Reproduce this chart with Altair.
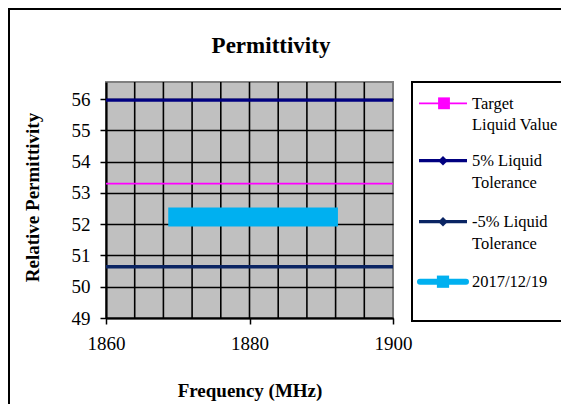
import altair as alt
import pandas as pd

# ---- data ----
freq_span = [1860, 1900]
target_val = [53.3, 53.3]
tol_plus = [55.97, 55.97]
tol_minus = [50.64, 50.64]
meas_freq = [1870, 1880, 1891]
meas_val = [52.23, 52.23, 52.23]
grid_freq = [1864, 1868, 1872, 1876, 1880, 1884, 1888, 1892, 1896]
x_ticks = [1860, 1880, 1900]
y_ticks = [49, 50, 51, 52, 53, 54, 55, 56]
series_names = ["Target\nLiquid Value", "5% Liquid\nTolerance", "-5% Liquid\nTolerance", "2017/12/19"]
series_colors = ["#FF00FF", "#000080", "#0A2463", "#00B0F0"]

FONT = "'Liberation Serif', 'Times New Roman', Times, serif"
W, H = 287, 236

xs = alt.Scale(domain=[1860, 1900], nice=False, zero=False)
ys = alt.Scale(domain=[49, 56.55], nice=False, zero=False)

xaxis = alt.Axis(values=x_ticks, grid=False, title="Frequency (MHz)", format="d",
                 labelFont=FONT, labelFontSize=19, labelColor="black", labelPadding=10,
                 labelFlush=False,
                 tickSize=6, tickWidth=1.5, tickColor="black",
                 domainColor="black", domainWidth=2.2,
                 titleFont=FONT, titleFontSize=19, titleFontWeight="bold", titleColor="black",
                 titleY=78, titleBaseline="alphabetic")
yaxis = alt.Axis(values=y_ticks, grid=True, gridColor="black", gridWidth=1.6,
                 title="Relative Permittivity", format="d",
                 labelFont=FONT, labelFontSize=19, labelColor="black", labelPadding=10,
                 tickSize=6, tickWidth=1.5, tickColor="black",
                 domainColor="black", domainWidth=2.2,
                 titleFont=FONT, titleFontSize=19, titleFontWeight="bold", titleColor="black",
                 titleAngle=270, titleX=-68, titleY=115, titleAlign="center",
                 titleBaseline="alphabetic")

one = pd.DataFrame({"k": [0]})

frame = alt.Chart(one).mark_rect(fillOpacity=0, stroke="black", strokeWidth=2).encode(
    x=alt.value(-97), x2=alt.value(900), y=alt.value(-73), y2=alt.value(700))

grid = alt.Chart(pd.DataFrame({"f": grid_freq})).mark_rule(color="black", strokeWidth=1.6).encode(
    x=alt.X("f:Q", scale=xs, axis=xaxis))

def series_line(vals_x, vals_y, color, width, cap="butt"):
    df = pd.DataFrame({"f": vals_x, "v": vals_y})
    return alt.Chart(df).mark_line(color=color, strokeWidth=width, strokeCap=cap).encode(
        x=alt.X("f:Q", scale=xs, axis=xaxis),
        y=alt.Y("v:Q", scale=ys, axis=yaxis))

l_target = series_line(freq_span, target_val, series_colors[0], 1.8)
l_plus = series_line(freq_span, tol_plus, series_colors[1], 3.3)
l_minus = series_line(freq_span, tol_minus, series_colors[2], 3.3)
l_meas = series_line(meas_freq, meas_val, series_colors[3], 19, "square")

title = alt.Chart(one).mark_text(font=FONT, fontSize=23, fontWeight="bold", color="black",
                                 align="center", baseline="alphabetic").encode(
    x=alt.value(165), y=alt.value(-29), text=alt.value("Permittivity"))

legend_box = alt.Chart(one).mark_rect(fill="white", stroke="black", strokeWidth=2).encode(
    x=alt.value(306), x2=alt.value(900), y=alt.value(0), y2=alt.value(239))

entry_y = [21.3, 78.7, 139.7, 199.7]
line_w = [1.8, 3.3, 3.3, 6]
caps = ["butt", "butt", "butt", "round"]
shapes = ["square", "diamond", "diamond", "square"]
sizes = [140, 90, 90, 150]
mark_x = [338, 337, 337, 337]

legend_layers = []
for i, name in enumerate(series_names):
    c = series_colors[i]
    ey = entry_y[i]
    legend_layers.append(alt.Chart(one).mark_rule(color=c, strokeWidth=line_w[i], strokeCap=caps[i]).encode(
        x=alt.value(313 if i < 3 else 314), x2=alt.value(361 if i < 3 else 360), y=alt.value(ey)))
    legend_layers.append(alt.Chart(one).mark_point(shape=shapes[i], filled=True, size=sizes[i],
                                                   color=c, opacity=1).encode(
        x=alt.value(mark_x[i]), y=alt.value(ey)))
    legend_layers.append(alt.Chart(one).mark_text(font=FONT, fontSize=16.5, color="black", align="left",
                                                  baseline="alphabetic", lineBreak="\n",
                                                  lineHeight=21.5).encode(
        x=alt.value(366), y=alt.value(ey + 5.5), text=alt.value(name)))

chart = alt.layer(frame, grid, l_target, l_plus, l_minus, l_meas, title, legend_box,
                  *legend_layers).properties(
    width=W, height=H,
    autosize=alt.AutoSizeParams(type="none"),
    padding={"left": 98, "top": 74, "right": 168, "bottom": 86},
    background="white",
).configure_view(fill="#C0C0C0", stroke="#808080", strokeWidth=2)

chart.save("out.html", embed_options={"renderer": "svg", "actions": False})
